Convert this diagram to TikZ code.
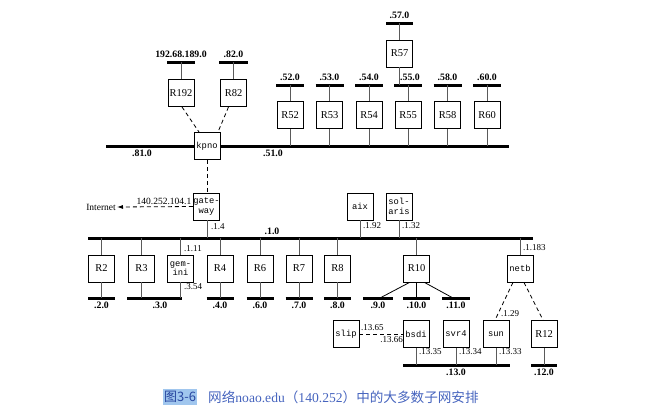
\documentclass[tikz,border=0pt]{standalone}
\usepackage{fontspec}
\setmainfont{Liberation Serif}
\newfontfamily\monof{Liberation Mono}
\newfontfamily\cjk{Noto Sans CJK SC}
\usetikzlibrary{arrows.meta}
\definecolor{capblue}{RGB}{70,100,190}
\definecolor{hlblue}{RGB}{160,198,238}
\definecolor{hltext}{RGB}{40,70,160}
\definecolor{linkgray}{RGB}{90,90,90}
\tikzset{
  box/.style={draw, line width=0.9pt, fill=white, minimum width=26pt, minimum height=27pt, inner sep=0pt, font=\fontsize{10.5}{11}\selectfont},
  mbox/.style={box, font=\monof\fontsize{8.8}{9.6}\selectfont, align=center},
  netbar/.style={line width=3pt},
  link/.style={line width=0.8pt, draw=linkgray},
  dlink/.style={line width=0.8pt, dashed, dash pattern=on 4pt off 3pt},
  nlab/.style={font=\bfseries\fontsize{9.8}{10}\selectfont, inner sep=1pt},
  alab/.style={font=\fontsize{9}{10}\selectfont, inner sep=1pt},
}
\begin{document}
\begin{tikzpicture}[x=1pt,y=-1pt]
\useasboundingbox (0,0) rectangle (658,413);
% ---------- top part ----------
\node[box] (R192) at (181,93) {R192};
\node[box] (R82) at (233.5,93) {R82};
\coordinate (b192L) at (167,62); \coordinate (b192R) at (195,62);
\coordinate (b82L) at (219,62); \coordinate (b82R) at (248,62);
\draw[netbar] (b192L) -- (b192R);
\draw[netbar] (b82L) -- (b82R);
\node[nlab, anchor=south] (l192) at (181,59) {192.68.189.0};
\node[nlab, anchor=south] (l82) at (233.5,59) {.82.0};
\draw[link] (R192.north) -- (R192.north |- b192L);
\draw[link] (R82.north) -- (R82.north |- b82L);
% main .81/.51 bar
\coordinate (m1) at (106,146); \coordinate (m2) at (509,146);
\draw[netbar] (m1) -- (m2);
\node[nlab] (l81) at (142,153) {.81.0};
\node[nlab] (l51) at (273,153) {.51.0};
\node[mbox] (kpno) at (207,146) {kpno};
\coordinate (k1) at (199,132); \coordinate (k2) at (218,132);
\draw[dlink] ([xshift=1pt]R192.south) -- (k1);
\draw[dlink] ([xshift=-5pt]R82.south) -- (k2);
% .5x routers
\foreach \n/\x in {52/290,53/329.5,54/369,58/447.5,60/487}{
  \node[box] (R\n) at (\x,115) {R\n};
  \draw[netbar] (\x-14,85) -- (\x+14,85);
  \node[nlab, anchor=south] (l\n) at (\x,82) {.\n.0};
  \draw[link] (R\n.north) -- (\x,85);
  \draw[link] (R\n.south) -- (\x,146);
}
\node[box] (R55) at (408,115) {R55};
\draw[netbar] (394,85) -- (422,85);
\node[nlab, anchor=south] (l55) at (410,82) {.55.0};
\draw[link] (R55.north) -- (408,85);
\draw[link] (R55.south) -- (408,146);
\node[box] (R57) at (399.5,53.5) {R57};
\draw[netbar] (386,23) -- (413,23);
\node[nlab, anchor=south] (l57) at (399.5,20) {.57.0};
\draw[link] (R57.north) -- (399.5,23);
\draw[link] (R57.south) -- (399.5,85);
% ---------- gateway ----------
\node[mbox] (gw) at (206.5,206.5) {gate-\\way};
\draw[dlink] (kpno.south) -- (gw.north -| kpno.south);
\node[font=\fontsize{9.5}{10}\selectfont, anchor=east, inner sep=1pt] (inet) at (117,207) {Internet};
\draw[dlink, -{Latex[length=6pt,width=4pt]}] (gw.west) -- (inet.east);
\node[font=\fontsize{9.5}{10}\selectfont, anchor=south east, inner sep=1pt] (l140) at (192.5,206) {140.252.104.1};
% .1.0 bar
\coordinate (n1) at (88,238); \coordinate (n2) at (533,238);
\draw[netbar] (n1) -- (n2);
\node[nlab, anchor=south] (l10) at (272,236) {.1.0};
\draw[link] (gw.south -| 207,0) -- (207,238);
\node[alab, anchor=west] (l14) at (210,227) {.1.4};
% aix, solaris
\node[mbox] (aix) at (360,206.5) {aix};
\node[mbox] (sol) at (399,206.5) {sol-\\aris};
\draw[link] (aix.south) -- (360,238);
\draw[link] (sol.south) -- (399,238);
\node[alab, anchor=west] (l192b) at (362,226) {.1.92};
\node[alab, anchor=west] (l132) at (401,226) {.1.32};
% lower routers
\foreach \n/\x in {2/101.5,3/141.5,4/220,6/260,7/299,8/337.5}{
  \node[box] (R\n) at (\x,268.5) {R\n};
  \draw[link] (R\n.north) -- (\x,238);
}
\node[mbox] (gem) at (180.5,268.5) {gem-\\ini};
\draw[link] (gem.north) -- (180.5,238);
\node[alab, anchor=west] (l111) at (183,249) {.1.11};
\node[alab, anchor=west] (l354) at (183,287) {.3.54};
\foreach \n/\x in {2/101.5,4/220,6/260,7/299,8/337.5}{
  \draw[netbar] (\x-13.5,298) -- (\x+13.5,298);
  \draw[link] (R\n.south) -- (\x,298);
  \node[nlab] (l\n0) at (\x,305) {.\n.0};
}
\draw[netbar] (127,298) -- (181.5,298);
\draw[link] (R3.south) -- (141.5,298);
\draw[link] (gem.south) -- (180.5,298);
\node[nlab] (l30) at (160,305) {.3.0};
% R10
\node[box] (R10) at (416.5,268.5) {R10};
\draw[link] (R10.north) -- (416.5,238);
\draw[netbar] (363,298) -- (393,298);
\draw[netbar] (403,298) -- (430,298);
\draw[netbar] (442,298) -- (470,298);
\node[nlab] (l9) at (378,305) {.9.0};
\node[nlab] (l100) at (416.5,305) {.10.0};
\node[nlab] (l11) at (456,305) {.11.0};
\draw[line width=0.8pt] ([xshift=-7pt]R10.south) -- (380,298);
\draw[line width=0.8pt] (R10.south) -- (416.5,298);
\draw[line width=0.8pt] ([xshift=8pt]R10.south) -- (453,298);
% netb
\node[mbox] (netb) at (520,268.5) {netb};
\draw[link] (netb.north) -- (520,238);
\node[alab, anchor=west] (l1183) at (522,248) {.1.183};
% bottom hosts
\node[mbox] (slip) at (346,334) {slip};
\node[mbox] (bsdi) at (416,334) {bsdi};
\node[mbox] (svr4) at (456,334) {svr4};
\node[mbox] (sun) at (496,334) {sun};
\node[box] (R12) at (544,334) {R12};
\draw[dlink] (slip.east) -- (bsdi.west);
\node[alab, anchor=south west] (l1365) at (360,332) {.13.65};
\node[alab, anchor=north east] (l1366) at (404,335) {.13.66};
\draw[dlink] ([xshift=-7pt]netb.south) -- ([xshift=-1pt]sun.north);
\draw[dlink] ([xshift=4pt]netb.south) -- ([xshift=-1pt]R12.north);
\node[alab, anchor=west] (l129) at (500,314) {.1.29};
\draw[netbar] (403,365) -- (510,365);
\draw[netbar] (531,365) -- (557,365);
\draw[link] (bsdi.south) -- (416,365);
\draw[link] (svr4.south) -- (456,365);
\draw[link] (sun.south) -- (496,365);
\draw[link] (R12.south) -- (544,365);
\node[alab, anchor=west] (l1335) at (418,352) {.13.35};
\node[alab, anchor=west] (l1334) at (458,352) {.13.34};
\node[alab, anchor=west] (l1333) at (498,352) {.13.33};
\node[nlab] (l130) at (456,372) {.13.0};
\node[nlab] (l120) at (544,372) {.12.0};
% caption
\node[fill=hlblue, text=hltext, inner xsep=1pt, inner ysep=2pt, anchor=west, font=\cjk\fontsize{13}{14}\selectfont] (fig) at (163,397) {图3-6};
\node[text=capblue, anchor=west, inner sep=0pt, font=\fontsize{13.6}{14}\selectfont] (cap) at (208,397) {{\cjk 网络}noao.edu{\cjk （}140.252{\cjk ）中的大多数子网安排}};
\end{tikzpicture}
\end{document}
